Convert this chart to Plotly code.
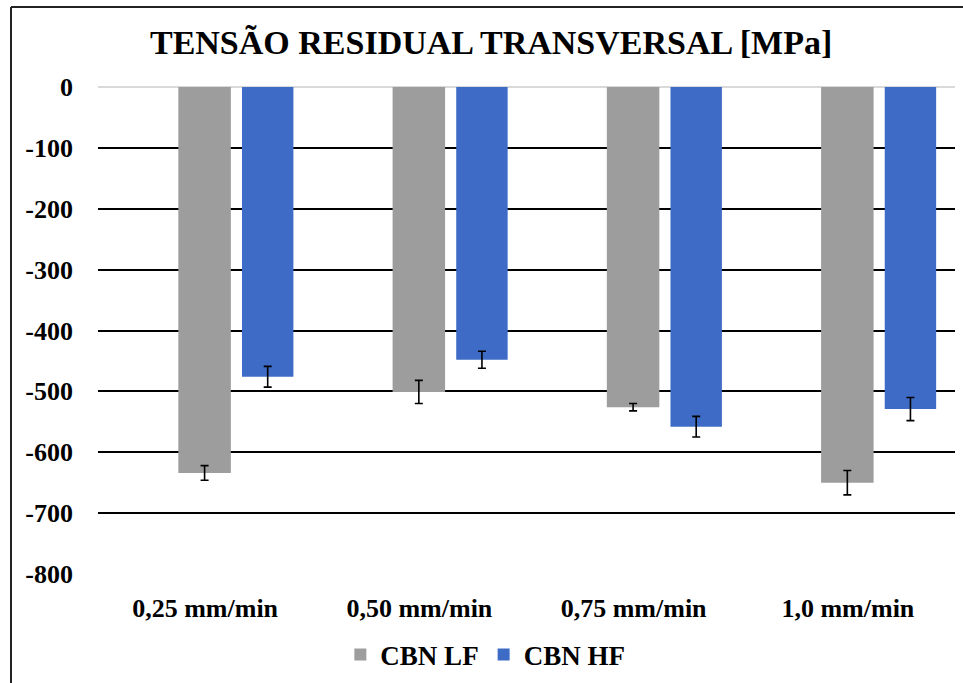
import plotly.graph_objects as go

categories = ["0,25 mm/min", "0,50 mm/min", "0,75 mm/min", "1,0 mm/min"]
lf_values = [-634, -501, -526, -650]
lf_errors = [12, 19, 6, 20]
hf_values = [-476, -448, -558, -529]
hf_errors = [17, 14, 17, 19]
y_ticks = [0, -100, -200, -300, -400, -500, -600, -700, -800]
y_tick_labels = ["0", "-100", "-200", "-300", "-400", "-500", "-600", "-700", "-800"]

FONT = "Liberation Serif"

fig = go.Figure()
fig.add_trace(go.Bar(
    x=categories, y=lf_values, name="<b>CBN LF</b>",
    marker=dict(color="#9d9d9d", line=dict(width=0)),
    width=0.245, offset=-0.125,
    error_y=dict(type="data", array=lf_errors, color="black", thickness=1.6, width=4),
))
fig.add_trace(go.Bar(
    x=categories, y=hf_values, name="<b>CBN HF</b>",
    marker=dict(color="#3e6bc6", line=dict(width=0)),
    width=0.24, offset=0.172,
    error_y=dict(type="data", array=hf_errors, color="black", thickness=1.6, width=4),
))

fig.update_layout(
    width=963, height=683,
    margin=dict(l=98, r=8, t=87, b=109, autoexpand=False),
    paper_bgcolor="white", plot_bgcolor="white",
    font=dict(family=FONT, color="black"),
    title=dict(text="<b>TENSÃO RESIDUAL TRANSVERSAL [MPa]</b>",
               x=0.51, xanchor="center", y=1 - 42 / 683, yanchor="middle",
               font=dict(family=FONT, size=34, color="black")),
    barmode="group",
    showlegend=True,
    legend=dict(orientation="h", x=0.452, xanchor="center", y=-0.166, yanchor="middle",
                font=dict(family=FONT, size=27, color="black"),
                itemwidth=30, bgcolor="rgba(0,0,0,0)"),
    xaxis=dict(type="category", showgrid=False, showline=False, ticks="",
               tickvals=categories, ticktext=["<b>%s</b>" % c for c in categories],
               tickfont=dict(family=FONT, size=26, color="black"),
               ticklabelstandoff=16),
    yaxis=dict(range=[-800, 0], tickvals=y_ticks,
               ticktext=["<b>%s</b>" % t for t in y_tick_labels],
               showgrid=True, gridcolor="black", gridwidth=1.5,
               zeroline=True, zerolinecolor="#d9d9d9", zerolinewidth=1.5,
               showline=False, ticks="",
               tickfont=dict(family=FONT, size=26, color="black"),
               ticklabelstandoff=24),
    shapes=[
        dict(type="line", xref="paper", yref="paper",
             x0=(11 - 98) / 857, x1=1.2, y0=(574 - 7) / 487, y1=(574 - 7) / 487,
             line=dict(color="#222222", width=2)),
        dict(type="line", xref="paper", yref="paper",
             x0=(11 - 98) / 857, x1=(11 - 98) / 857, y0=(574 - 7) / 487, y1=-0.4,
             line=dict(color="#222222", width=2)),
    ],
)

fig.write_html("out.html", config={"displayModeBar": False},
               post_script="document.body.style.margin='0px';")
